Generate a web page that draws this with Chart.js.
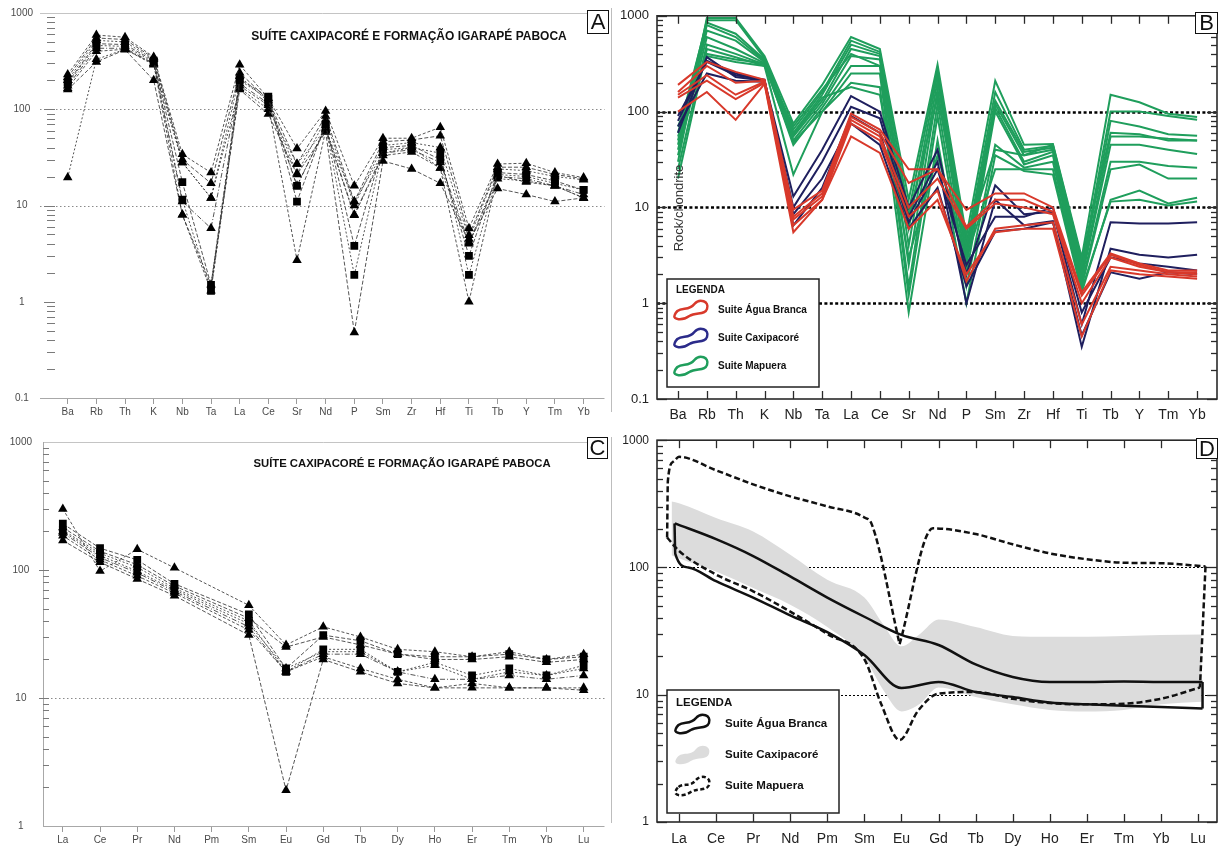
<!DOCTYPE html>
<html>
<head>
<meta charset="utf-8">
<script src="https://cdn.jsdelivr.net/npm/chart.js@4.4.1/dist/chart.umd.min.js"></script>
<style>
  body { margin: 0; background: #fff; }
  #wrap { position: relative; width: 1220px; height: 848px; }
  canvas { position: absolute; }
</style>
</head>
<body>
<div id="wrap">
  <canvas id="cA" width="610" height="425" style="left:0;top:0"></canvas>
  <canvas id="cB" width="610" height="425" style="left:610px;top:0"></canvas>
  <canvas id="cC" width="610" height="423" style="left:0;top:425px"></canvas>
  <canvas id="cD" width="610" height="423" style="left:610px;top:425px"></canvas>
</div>
<script>
// element order on the x axes
const traceEls = ['Ba', 'Rb', 'Th', 'K', 'Nb', 'Ta', 'La', 'Ce', 'Sr', 'Nd', 'P', 'Sm', 'Zr', 'Hf', 'Ti', 'Tb', 'Y', 'Tm', 'Yb'];
const reeEls = ['La', 'Ce', 'Pr', 'Nd', 'Pm', 'Sm', 'Eu', 'Gd', 'Tb', 'Dy', 'Ho', 'Er', 'Tm', 'Yb', 'Lu'];
const decadesWide = [0.1, 1, 10, 100, 1000];
const decadesRee = [1, 10, 100, 1000];
const title = 'SUÍTE CAXIPACORÉ E FORMAÇÃO IGARAPÉ PABOCA';

// Panel A - spider diagram, samples (triangles / squares)
const aTriangles = [
  [230, 590, 560, 350, 34, 22, 290, 130, 39, 96, 16, 50, 50, 65, 5.8, 27, 27.5, 22, 19.5],
  [215, 550, 530, 340, 30, 17, 240, 125, 27, 85, 11, 46, 48, 53, 4.9, 25, 25, 21, 19],
  [200, 520, 500, 330, 28, 12, 220, 120, 21.5, 78, 10, 42, 45, 40, 4.5, 24, 23, 20, 18.5],
  [175, 430, 430, 300, 11, 5.8, 185, 115, 16, 64, 8, 35, 38, 28, 4.1, 20, 19, 16, 13],
  [165, 400, 420, 296, 8, 1.3, 175, 110, 2.7, 60, 7.9, 33, 36, 24.5, 1.0, 20.5, 17.5, 16, 12],
  [160, 310, 415, 200, 8, 1.5, 160, 89, 21, 58, 0.48, 29, 24, 17, 4.2, 15, 13, 11, 12],
  [19.5, 330, 420, 290, 28, 12, 165, 100, 27, 62, 11, 35, 40, 24.5, 4.0, 19, 18, 16, 12]
];
const aSquares = [
  [190, 480, 470, 320, 17.5, 1.5, 205, 135, 11, 70, 3.8, 40, 42, 30, 3.0, 22, 21, 18, 14.5],
  [185, 460, 450, 310, 11.5, 1.3, 200, 128, 16, 66, 1.9, 38, 40, 35, 1.9, 21, 20, 17, 14.5]
];

// Panel B - spider diagram by suite
const bAguaBranca = [
  [190, 330, 260, 215, 9.5, 15, 95, 65, 25, 25, 9.4, 14, 14, 10, 1.3, 3.3, 2.6, 2.2, 2.2],
  [160, 300, 200, 210, 8, 14, 88, 60, 18, 25, 6.3, 12, 12, 9, 1.2, 3.2, 2.5, 2.1, 2.1],
  [150, 240, 150, 205, 7.5, 13, 82, 55, 10, 20, 6, 11, 10, 8.5, 1.0, 3.0, 2.4, 2.1, 2.0],
  [140, 210, 135, 200, 6.5, 12, 75, 50, 8, 15, 1.7, 6, 6.5, 7, 0.6, 2.4, 2.2, 2.0, 1.9],
  [100, 160, 82, 195, 5.5, 12, 55, 37, 6, 12, 2, 5.5, 6, 6, 0.45, 2.2, 2.0, 1.9, 1.8]
];
const bCaxipacore = [
  [60, 370, 230, 210, 13, 40, 145, 100, 10, 40, 2.0, 17, 8.5, 9, 0.6, 7, 6.8, 6.8, 7],
  [80, 340, 250, 210, 10, 30, 112, 85, 8, 30, 1.0, 12, 6.5, 7.2, 0.35, 3.7, 3.2, 3.0, 3.2],
  [70, 250, 210, 205, 8.5, 20, 75, 45, 6, 16, 1.5, 5.6, 6, 7, 0.46, 2.1, 1.8, 2.1, 2.0],
  [90, 330, 240, 215, 6.5, 16, 90, 60, 7, 25, 2.5, 8, 8, 10, 0.8, 3, 2.6, 2.4, 2.2]
];
const bMapuera = [
  [30, 950, 950, 380, 75, 190, 600, 450, 12, 310, 5, 210, 45, 46, 3.0, 150, 125, 95, 88],
  [50, 900, 900, 360, 65, 160, 550, 420, 9, 280, 4, 160, 40, 44, 2.5, 100, 100, 90, 82],
  [60, 850, 650, 350, 60, 150, 500, 400, 6, 250, 3.5, 130, 38, 42, 2.2, 80, 70, 58, 56],
  [45, 800, 600, 340, 55, 130, 450, 380, 4, 210, 3, 120, 35, 40, 2.0, 55, 55, 52, 50],
  [40, 700, 550, 330, 50, 120, 380, 350, 2.5, 170, 2.5, 110, 30, 38, 1.8, 45, 45, 40, 36],
  [35, 600, 450, 320, 45, 110, 300, 300, 1.5, 120, 2, 100, 28, 35, 1.6, 30, 30, 27, 26],
  [25, 500, 400, 310, 48, 100, 250, 250, 1.2, 90, 1.5, 45, 26, 30, 1.5, 25, 28, 20, 20],
  [20, 450, 370, 300, 22, 100, 200, 180, 0.8, 50, 1, 35, 24, 22, 1.3, 12, 15, 11, 12.6],
  [55, 400, 350, 320, 58, 140, 180, 150, 3, 35, 3, 25, 25, 25, 1.4, 11.5, 12, 10.5, 11.5],
  [70, 380, 330, 300, 70, 170, 400, 300, 8, 140, 4.5, 40, 35, 45, 2.8, 60, 58, 50, 50]
];

// Panel C - REE, samples (no Pm)
const cTriangles = [
  [300, 98, 145, 104, null, 53, 26, 36, 30, 24, 23, 21, 23, 20, 22],
  [215, 140, 110, 75, null, 42, 25, 30, 26, 22, 20, 20, 21, 19, 20],
  [200, 130, 98, 70, null, 38, 17, 23, 23, 16, 18, 14, 16, 15, 17],
  [195, 125, 95, 68, null, 36, 16, 22, 22, 16, 14, 14, 15, 14, 15],
  [185, 120, 90, 66, null, 34, 16, 21, 17, 14, 12, 13, 12, 12, 12],
  [170, 115, 85, 63, null, 31, 1.9, 20, 16, 13, 12, 12, 12, 12, 11.5]
];
const cSquares = [
  [230, 148, 120, 78, null, 45, 17, 31, 28, 22, 21, 21, 22, 20, 21],
  [205, 135, 105, 72, null, 40, 16, 24, 24, 16, 19, 15, 17, 15, 18]
];

// Panel D - REE envelopes (x in element index units)
const dAguaUpperX = [-0.11, 1, 2, 3, 4, 5, 6, 7, 8, 9, 10, 11, 12, 13, 14.12];
const dAguaUpper = [222, 167, 123, 85, 58, 41, 29.5, 24.6, 17.3, 13.8, 12.6, 12.6, 12.7, 12.6, 12.6];
const dAguaLowerX = [-0.12, -0.1, 0.25, 1, 2, 3, 4, 5, 6, 7, 8, 9, 10, 11, 12, 13, 14.12];
const dAguaLower = [222, 128, 100, 78, 58, 42, 31, 20.5, 11.3, 12.6, 10.5, 9.6, 8.7, 8.4, 8.2, 8, 7.8];
const dAguaRightX = [14.12, 14.12];
const dAguaRight = [12.6, 7.8];

const dMapueraUpperX = [-0.32, -0.3, -0.15, 0, 1, 2, 3, 4, 5, 5.2, 5.95];
const dMapueraUpper = [172, 480, 680, 740, 580, 450, 362, 302, 247, 218, 25];
const dMapueraUpper2X = [5.95, 6.85, 8, 9, 10, 11, 12, 13, 14.2];
const dMapueraUpper2 = [25, 203, 183, 152, 129, 116, 109, 108, 102];
const dMapueraLowerX = [-0.32, 0, 1, 2, 3, 4, 5, 5.45, 5.95, 6.45, 7, 8, 9, 10, 11, 12, 13, 14.05];
const dMapueraLower = [172, 135, 88, 65, 45, 30, 19, 8.5, 4.4, 7.5, 10.2, 10.5, 9.3, 8.6, 8.4, 8.5, 9.3, 11.4];
const dMapueraRightX = [14.2, 14.05];
const dMapueraRight = [102, 11.4];

const dCaxiX = [-0.2, 0, 1, 2, 3, 4, 5, 5.5, 6, 6.5, 7, 8, 9, 10, 11, 12, 13, 14.1];
const dCaxiUpper = [330, 320, 245, 192, 126, 80, 58, 36, 24, 30, 39, 34, 29, 28.5, 28.5, 29, 29.5, 29.7];
const dCaxiLower = [125, 118, 93, 69, 51, 34, 19.5, 11, 7.4, 8.5, 11.4, 9.6, 8.4, 7.6, 7.4, 7.6, 8.4, 8.8];

Chart.defaults.font.family = "'Liberation Sans', Arial, sans-serif";

const idxPts = row => row.map((y, i) => (y == null ? null : { x: i, y })).filter(Boolean);
const xyPts = (xs, ys) => xs.map((x, i) => ({ x, y: ys[i] }));
const dashes = [[3, 2], [4, 2], [2, 2], [5, 2, 1, 2]];

function logMarks(min, max) {
  const out = [];
  for (let e = Math.round(Math.log10(min)); e < Math.round(Math.log10(max)); e++) {
    const base = Math.pow(10, e);
    for (let m = 1; m < 10; m++) out.push({ v: m * base, major: m === 1 });
  }
  out.push({ v: max, major: true });
  return out;
}

function seg(ctx, x0, y0, x1, y1) {
  ctx.beginPath(); ctx.moveTo(x0, y0); ctx.lineTo(x1, y1); ctx.stroke();
}

function letterBox(ctx, x, y, w, h, t) {
  ctx.save();
  ctx.fillStyle = '#fff'; ctx.fillRect(x, y, w, h);
  ctx.strokeStyle = '#111'; ctx.lineWidth = 1; ctx.setLineDash([]);
  ctx.strokeRect(x + 0.5, y + 0.5, w, h);
  ctx.fillStyle = '#111'; ctx.font = "22px 'Liberation Sans', Arial, sans-serif";
  ctx.textAlign = 'center'; ctx.textBaseline = 'middle';
  ctx.fillText(t, x + w / 2 + 0.5, y + h / 2 + 1.5);
  ctx.restore();
}

function blobPath(ctx, x, y, w, h) {
  ctx.beginPath();
  ctx.moveTo(x + 0.1 * w, y + 0.55 * h);
  ctx.bezierCurveTo(x + 0.25 * w, y + 0.35 * h, x + 0.45 * w, y + 0.55 * h, x + 0.6 * w, y + 0.2 * h);
  ctx.bezierCurveTo(x + 0.75 * w, y - 0.1 * h, x + 1.05 * w, y + 0.05 * h, x + 0.97 * w, y + 0.45 * h);
  ctx.bezierCurveTo(x + 0.92 * w, y + 0.75 * h, x + 0.65 * w, y + 0.6 * h, x + 0.45 * w, y + 0.8 * h);
  ctx.bezierCurveTo(x + 0.25 * w, y + 1.05 * h, x - 0.05 * w, y + 1.0 * h, x + 0.02 * w, y + 0.75 * h);
  ctx.bezierCurveTo(x + 0.04 * w, y + 0.65 * h, x + 0.07 * w, y + 0.6 * h, x + 0.1 * w, y + 0.55 * h);
  ctx.closePath();
}

function legendBox(ctx, box) {
  ctx.save();
  ctx.fillStyle = '#fff'; ctx.fillRect(box.x, box.y, box.w, box.h);
  ctx.strokeStyle = '#222'; ctx.lineWidth = 1.5;
  ctx.strokeRect(box.x, box.y, box.w, box.h);
  ctx.fillStyle = '#111'; ctx.textBaseline = 'middle'; ctx.textAlign = 'left';
  ctx.font = `bold ${box.fs}px 'Liberation Sans', Arial, sans-serif`;
  ctx.fillText('LEGENDA', box.x + 9, box.titleY);
  box.items.forEach(it => {
    blobPath(ctx, box.bx, it.y - 10, box.bw, 20);
    if (it.fill) { ctx.fillStyle = it.fill; ctx.fill(); }
    if (it.stroke) {
      ctx.strokeStyle = it.stroke; ctx.lineWidth = 2.5;
      ctx.setLineDash(it.dash || []); ctx.stroke(); ctx.setLineDash([]);
    }
    ctx.fillStyle = '#111';
    ctx.fillText(it.label, box.tx, it.y);
  });
  ctx.restore();
}

function scales(o) {
  return {
    x: {
      type: 'linear', min: o.xmin, max: o.xmax,
      afterBuildTicks: ax => { ax.ticks = o.cats.map((c, i) => ({ value: i })); },
      afterFit: s => { s.height = o.xh; },
      ticks: {
        autoSkip: false, maxRotation: 0, padding: o.xpad, color: o.color,
        font: { size: o.xfs }, callback: v => o.cats[v]
      },
      grid: {
        display: o.ticksOut, drawOnChartArea: false, drawTicks: o.ticksOut,
        tickLength: 6, tickColor: '#9a9a9a', tickWidth: 1
      },
      border: { display: false }
    },
    y: {
      type: 'logarithmic', min: o.ymin, max: o.ymax,
      afterBuildTicks: ax => { ax.ticks = o.decades.map(v => ({ value: v })); },
      afterFit: s => { s.width = o.yw; },
      ticks: {
        padding: o.ypad, crossAlign: o.cross, color: o.color,
        font: { size: o.yfs }, callback: v => String(v)
      },
      grid: { display: false, drawTicks: false },
      border: { display: false }
    }
  };
}

function baseOptions(o, W) {
  return {
    responsive: false, maintainAspectRatio: false, animation: false,
    layout: { padding: { top: o.top, right: W - o.right, left: 0, bottom: 0 } },
    plugins: { legend: { display: false }, tooltip: { enabled: false } },
    scales: scales(o)
  };
}

function sampleSet(row, style, k) {
  return {
    data: idxPts(row),
    borderColor: '#2a2a2a', borderWidth: 0.8, borderDash: dashes[k % dashes.length],
    pointStyle: style, pointRadius: 5.5, pointBackgroundColor: '#000',
    pointBorderWidth: 0, tension: 0, fill: false
  };
}

// plain panels A and C
function plainDeco(cfg) {
  return {
    id: 'plain',
    beforeDatasetsDraw(chart) {
      const { ctx, chartArea: a, scales: { y } } = chart;
      ctx.save();
      ctx.lineWidth = 1;
      ctx.strokeStyle = '#c4c4c4';
      seg(ctx, a.left, a.top + 0.5, a.right, a.top + 0.5);
      ctx.strokeStyle = '#a8a8a8';
      seg(ctx, a.left, a.bottom + 0.5, a.right, a.bottom + 0.5);
      if (cfg.leftLine) seg(ctx, a.left + 0.5, a.top, a.left + 0.5, a.bottom);
      ctx.strokeStyle = '#8a8a8a'; ctx.setLineDash([1.5, 2.5]);
      cfg.refs.forEach(v => {
        const py = Math.round(y.getPixelForValue(v)) + 0.5;
        seg(ctx, a.left, py, a.right, py);
      });
      ctx.setLineDash([]);
      ctx.strokeStyle = '#7a7a7a';
      logMarks(y.min, y.max).forEach(m => {
        const py = Math.round(y.getPixelForValue(m.v)) + 0.5;
        if (py < a.top + 1 || py > a.bottom - 1) return;
        seg(ctx, a.left + (m.major ? cfg.tick[0] : cfg.tick[1]), py, a.left + cfg.tick[2], py);
      });
      ctx.restore();
    },
    afterDraw(chart) {
      const ctx = chart.ctx;
      ctx.save();
      ctx.fillStyle = '#111'; ctx.textAlign = 'center'; ctx.textBaseline = 'middle';
      ctx.font = `bold ${cfg.titleSize}px 'Liberation Sans', Arial, sans-serif`;
      ctx.fillText(title, cfg.titleX, cfg.titleY);
      ctx.restore();
      letterBox(ctx, ...cfg.letter);
    }
  };
}

// framed panels B and D
function framedDeco(cfg) {
  return {
    id: 'framed',
    beforeDatasetsDraw(chart) {
      const { ctx, chartArea: a, scales: { y } } = chart;
      ctx.save();
      ctx.strokeStyle = '#000'; ctx.lineWidth = cfg.refWidth; ctx.setLineDash(cfg.refDash);
      cfg.refs.forEach(v => {
        const py = Math.round(y.getPixelForValue(v)) + 0.5;
        seg(ctx, a.left, py, a.right, py);
      });
      ctx.restore();
    },
    afterDatasetsDraw(chart) {
      const { ctx, chartArea: a, scales: { x, y } } = chart;
      ctx.save();
      ctx.strokeStyle = '#bdbdbd'; ctx.lineWidth = 1;
      seg(ctx, 1.5, cfg.pageLine[0], 1.5, cfg.pageLine[1]);
      ctx.strokeStyle = '#2a2a2a'; ctx.lineWidth = 1.6;
      ctx.strokeRect(a.left, a.top, a.right - a.left, a.bottom - a.top);
      ctx.lineWidth = 1.3;
      x.ticks.forEach(t => {
        const px = Math.round(x.getPixelForValue(t.value)) + 0.5;
        seg(ctx, px, a.bottom, px, a.bottom - 8);
        seg(ctx, px, a.top, px, a.top + 8);
      });
      logMarks(y.min, y.max).forEach(m => {
        const py = Math.round(y.getPixelForValue(m.v)) + 0.5;
        const len = m.major ? 10 : 6;
        seg(ctx, a.left, py, a.left + len, py);
        seg(ctx, a.right, py, a.right - len, py);
      });
      ctx.restore();
      if (cfg.extra) cfg.extra(ctx);
      legendBox(ctx, cfg.legend);
      letterBox(ctx, ...cfg.letter);
    }
  };
}

// ---------- Panel A ----------
const optA = {
  cats: traceEls, xmin: -0.967, xmax: 18.73, ymin: 0.1, ymax: 1000, decades: decadesWide,
  top: 11, right: 609, yw: 40, xh: 27, xpad: 2, ypad: 7, cross: 'center',
  xfs: 10, yfs: 10, color: '#4a4a4a', ticksOut: true
};
new Chart(document.getElementById('cA'), {
  type: 'line',
  data: {
    datasets: [
      ...aSquares.map((r, k) => sampleSet(r, 'rect', k + 1)),
      ...aTriangles.map((r, k) => sampleSet(r, 'triangle', k))
    ]
  },
  options: baseOptions(optA, 610),
  plugins: [plainDeco({
    refs: [100, 10], leftLine: false, tick: [4, 7, 15],
    titleSize: 12, titleX: 409, titleY: 37, letter: [587, 10, 21, 23, 'A']
  })]
});

// ---------- Panel B ----------
const red = '#d8392b', navy = '#1f1f5e', green = '#1f9e5c';
const lineSet = (row, color) => ({
  data: idxPts(row), borderColor: color, borderWidth: 2, pointRadius: 0, tension: 0, fill: false
});
const optB = {
  cats: traceEls, xmin: -0.728, xmax: 18.69, ymin: 0.1, ymax: 1000, decades: decadesWide,
  top: 11, right: 607, yw: 47, xh: 26, xpad: 8, ypad: 8, cross: 'near',
  xfs: 14, yfs: 13, color: '#222', ticksOut: false
};
new Chart(document.getElementById('cB'), {
  type: 'line',
  data: {
    datasets: [
      ...bAguaBranca.map(r => lineSet(r, red)),
      ...bCaxipacore.map(r => lineSet(r, navy)),
      ...bMapuera.map(r => lineSet(r, green))
    ]
  },
  options: baseOptions(optB, 610),
  plugins: [framedDeco({
    refs: [100, 10, 1], refWidth: 2.6, refDash: [3, 2.4], pageLine: [8, 412],
    letter: [585, 12, 22, 21, 'B'],
    legend: {
      x: 57, y: 279, w: 152, h: 108, fs: 10, titleY: 290, bx: 64, bw: 34, tx: 108,
      items: [
        { label: 'Suite Água Branca', y: 310, stroke: red },
        { label: 'Suite Caxipacoré', y: 338, stroke: '#2b2b8a' },
        { label: 'Suite Mapuera', y: 366, stroke: green }
      ]
    },
    extra: ctx => {
      ctx.save();
      ctx.translate(69, 208); ctx.rotate(-Math.PI / 2);
      ctx.fillStyle = '#333'; ctx.font = "13px 'Liberation Sans', Arial, sans-serif";
      ctx.textAlign = 'center'; ctx.textBaseline = 'middle';
      ctx.fillText('Rock/chondrite', 0, 0);
      ctx.restore();
    }
  })]
});

// ---------- Panel C ----------
const optC = {
  cats: reeEls, xmin: -0.533, xmax: 14.56, ymin: 1, ymax: 1000, decades: decadesRee,
  top: 13, right: 609, yw: 43, xh: 22, xpad: 2, ypad: 11, cross: 'center',
  xfs: 10, yfs: 10, color: '#4a4a4a', ticksOut: true
};
new Chart(document.getElementById('cC'), {
  type: 'line',
  data: {
    datasets: [
      ...cSquares.map((r, k) => sampleSet(r, 'rect', k + 1)),
      ...cTriangles.map((r, k) => sampleSet(r, 'triangle', k))
    ]
  },
  options: baseOptions(optC, 610),
  plugins: [plainDeco({
    refs: [10], leftLine: true, tick: [-4, 0, 6],
    titleSize: 11.3, titleX: 402, titleY: 39, letter: [587, 12, 20, 21, 'C']
  })]
});

// ---------- Panel D ----------
const envSet = (xs, ys, dashed, mono) => ({
  data: xyPts(xs, ys), borderColor: '#111', borderWidth: 2.5, borderDash: dashed ? [6, 3] : [],
  pointRadius: 0, fill: false, tension: mono ? 0.4 : 0,
  cubicInterpolationMode: mono ? 'monotone' : 'default'
});
const optD = {
  cats: reeEls, xmin: -0.593, xmax: 14.51, ymin: 1, ymax: 1000, decades: decadesRee,
  top: 15, right: 607, yw: 47, xh: 26, xpad: 9, ypad: 8, cross: 'near',
  xfs: 14, yfs: 12, color: '#222', ticksOut: false
};
new Chart(document.getElementById('cD'), {
  type: 'line',
  data: {
    datasets: [
      envSet(dMapueraUpperX, dMapueraUpper, true, true),
      envSet(dMapueraUpper2X, dMapueraUpper2, true, true),
      envSet(dMapueraLowerX, dMapueraLower, true, true),
      envSet(dMapueraRightX, dMapueraRight, true, false),
      envSet(dAguaUpperX, dAguaUpper, false, true),
      envSet(dAguaLowerX, dAguaLower, false, true),
      envSet(dAguaRightX, dAguaRight, false, false),
      {
        data: xyPts(dCaxiX, dCaxiUpper), borderWidth: 0, pointRadius: 0,
        backgroundColor: '#dcdcdc', fill: '+1', tension: 0.4, cubicInterpolationMode: 'monotone'
      },
      {
        data: xyPts(dCaxiX, dCaxiLower), borderWidth: 0, pointRadius: 0,
        fill: false, tension: 0.4, cubicInterpolationMode: 'monotone'
      }
    ]
  },
  options: baseOptions(optD, 610),
  plugins: [framedDeco({
    refs: [100, 10], refWidth: 1, refDash: [2, 2], pageLine: [12, 398],
    letter: [586, 13, 21, 20, 'D'],
    legend: {
      x: 57, y: 265, w: 172, h: 123, fs: 11.5, titleY: 278, bx: 65, bw: 35, tx: 115,
      items: [
        { label: 'Suite Água Branca', y: 299, stroke: '#111' },
        { label: 'Suite Caxipacoré', y: 330, fill: '#dcdcdc' },
        { label: 'Suite Mapuera', y: 361, stroke: '#111', dash: [4, 2.5] }
      ]
    }
  })]
});
</script>
</body>
</html>
